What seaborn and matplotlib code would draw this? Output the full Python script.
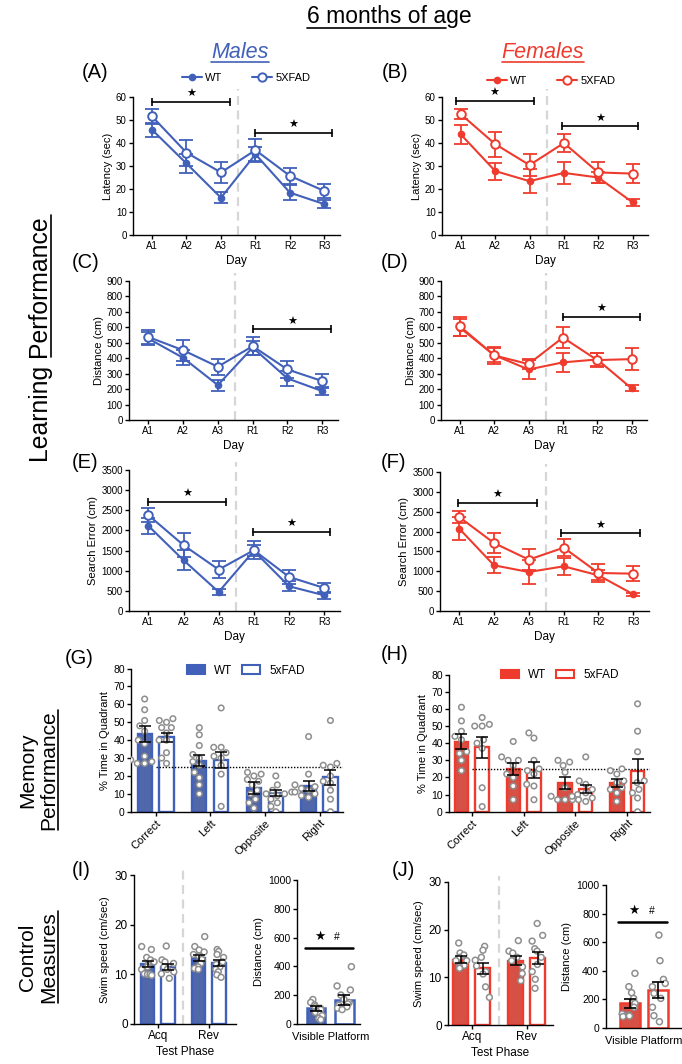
import numpy as np
import pandas as pd
import matplotlib
matplotlib.use("Agg")
import matplotlib.pyplot as plt
import seaborn as sns
from matplotlib.lines import Line2D
from matplotlib.patches import Patch

# ---------------- data ----------------
days = ["A1", "A2", "A3", "R1", "R2", "R3"]
genotypes = ["WT", "5xFAD"]
quadrants = ["Correct", "Left", "Opposite", "Right"]
phases = ["Acq", "Rev"]

# (A) males latency (sec)
m_lat_wt = [45.8, 31.1, 16.2, 35.1, 18.4, 13.4]
m_lat_wt_sem = [3.0, 4.2, 2.4, 3.2, 3.2, 1.8]
m_lat_fad = [51.6, 35.8, 27.2, 36.9, 25.7, 19.1]
m_lat_fad_sem = [3.3, 5.7, 4.6, 4.9, 3.5, 3.2]
# (B) females latency (sec)
f_lat_wt = [43.7, 27.8, 23.4, 27.0, 25.0, 14.2]
f_lat_wt_sem = [4.3, 3.7, 5.2, 4.8, 2.4, 1.4]
f_lat_fad = [52.5, 39.5, 30.4, 40.0, 27.2, 26.7]
f_lat_fad_sem = [2.2, 5.4, 4.9, 3.8, 4.7, 4.2]
# (C) males distance (cm)
m_dist_wt = [528, 403, 226, 469, 269, 187]
m_dist_wt_sem = [40, 50, 35, 45, 48, 27]
m_dist_fad = [538, 452, 345, 478, 327, 252]
m_dist_fad_sem = [45, 68, 52, 59, 57, 46]
# (D) females distance (cm)
f_dist_wt = [598, 420, 327, 373, 392, 205]
f_dist_wt_sem = [55, 45, 62, 60, 45, 20]
f_dist_fad = [607, 418, 362, 534, 388, 394]
f_dist_fad_sem = [60, 55, 30, 68, 45, 70]
# (E) males search error (cm)
m_err_wt = [2115, 1261, 473, 1493, 614, 390]
m_err_wt_sem = [195, 250, 80, 140, 125, 80]
m_err_fad = [2380, 1634, 1028, 1509, 846, 572]
m_err_fad_sem = [165, 300, 220, 230, 175, 130]
# (F) females search error (cm)
f_err_wt = [2077, 1150, 982, 1125, 898, 420]
f_err_wt_sem = [290, 200, 290, 220, 130, 30]
f_err_fad = [2367, 1712, 1293, 1595, 957, 940]
f_err_fad_sem = [140, 240, 270, 220, 220, 185]

# (G) males % time in quadrant
m_quad_wt = [43.4, 28.5, 13.4, 14.3]
m_quad_wt_sem = [4.4, 3.2, 3.3, 3.0]
m_quad_fad = [41.6, 28.9, 10.6, 19.2]
m_quad_fad_sem = [2.5, 4.5, 1.6, 4.0]
m_quad_wt_pts = [[63, 57, 51, 48, 45, 40, 38, 31, 29, 28, 27, 27],
                 [47, 43, 37, 32, 30, 28, 26, 22, 19, 15, 10],
                 [22, 21, 20, 18, 17, 15, 12, 10, 7, 5, 2],
                 [42, 21, 15, 14, 13, 12, 11, 10, 9, 8]]
m_quad_fad_pts = [[52, 51, 50, 47, 47, 44, 40, 40, 33, 30, 27],
                  [58, 36, 36, 33, 31, 30, 26, 21, 3],
                  [20, 15, 12, 11, 10, 10, 9, 7, 5, 3, 0],
                  [51, 27, 26, 25, 20, 17, 16, 12, 7, 0]]
# (H) females % time in quadrant
f_quad_wt = [40.9, 24.9, 16.6, 16.6]
f_quad_wt_sem = [4.3, 3.6, 3.5, 2.3]
f_quad_fad = [37.6, 24.4, 13.2, 23.8]
f_quad_fad_sem = [6.3, 4.7, 2.4, 7.0]
f_quad_wt_pts = [[61, 53, 47, 44, 42, 35, 34, 30, 24],
                 [41, 32, 30, 30, 27, 22, 20, 15, 7],
                 [30, 29, 27, 23, 14, 10, 9, 7, 7, 7],
                 [25, 24, 22, 18, 17, 14, 13, 11, 6]]
f_quad_fad_pts = [[55, 51, 50, 50, 42, 40, 37, 14, 3],
                  [46, 43, 30, 25, 24, 22, 16, 15, 7],
                  [32, 18, 16, 13, 11, 9, 8, 7, 6],
                  [63, 47, 35, 18, 17, 13, 11, 8, 0]]

# (I) males swim speed (cm/sec) and visible platform distance (cm)
m_speed_wt = [12.0, 13.2]
m_speed_wt_sem = [0.6, 0.6]
m_speed_fad = [11.5, 12.3]
m_speed_fad_sem = [0.6, 0.6]
m_speed_wt_pts = [[15.6, 15.0, 13.4, 12.9, 12.5, 11.9, 11.5, 11.0, 10.1, 10.0, 10.0, 9.8],
                  [17.6, 15.6, 14.9, 14.5, 14.0, 13.7, 13.0, 12.2, 11.5, 11.2, 11.0]]
m_speed_fad_pts = [[15.7, 12.9, 12.5, 12.2, 11.5, 11.0, 10.5, 10.1, 9.2],
                   [15.0, 14.6, 14.0, 13.4, 12.5, 12.0, 11.5, 11.0, 10.5, 9.9, 9.4]]
m_vis = [108, 167]
m_vis_sem = [15, 35]
m_vis_wt_pts = [170, 150, 132, 120, 109, 100, 90, 81, 70, 58, 39, 30]
m_vis_fad_pts = [398, 264, 236, 201, 171, 150, 139, 130, 120, 110, 100]

# (J) females swim speed (cm/sec) and visible platform distance (cm)
f_speed_wt = [13.7, 13.5]
f_speed_wt_sem = [0.7, 1.0]
f_speed_fad = [11.9, 14.0]
f_speed_fad_sem = [1.2, 1.3]
f_speed_wt_pts = [[17.2, 15.1, 14.7, 14.2, 13.5, 13.5, 12.5, 12.2, 11.9],
                  [17.7, 15.5, 15.1, 14.2, 13.5, 12.2, 10.8, 9.3]]
f_speed_fad_pts = [[16.5, 15.7, 14.2, 13.6, 12.4, 11.2, 10.7, 8.0, 5.8],
                   [21.3, 18.8, 17.6, 16.0, 15.5, 14.2, 12.7, 11.2, 9.6, 7.7]]
f_vis = [172, 266]
f_vis_sem = [33, 55]
f_vis_wt_pts = [382, 289, 247, 207, 172, 145, 98, 90, 84, 80]
f_vis_fad_pts = [650, 471, 340, 312, 289, 242, 207, 145, 86, 44]

# ---------------- style ----------------
W, H = 682, 1064
sns.set_theme(style="ticks")
plt.rcParams["font.family"] = ["Liberation Sans", "DejaVu Sans"]
plt.rcParams["axes.linewidth"] = 1.0
plt.rcParams["axes.edgecolor"] = "black"
plt.rcParams["xtick.color"] = "black"
plt.rcParams["ytick.color"] = "black"
plt.rcParams["text.color"] = "black"
plt.rcParams["axes.labelcolor"] = "black"
np.random.seed(7)

BLUE = "#4160B9"
RED = "#EE3B2D"
PT_EDGE = "#8E8E8E"
DASH_GRAY = "#D6D6D6"

fig = plt.figure(figsize=(W / 100, H / 100), dpi=100)


def add_ax(L, T, R, B):
    return fig.add_axes([L / W, 1 - B / H, (R - L) / W, (B - T) / H])


def style_ax(ax, fs):
    sns.despine(ax=ax)
    ax.spines["left"].set_linewidth(1.0)
    ax.spines["bottom"].set_linewidth(1.0)
    ax.tick_params(length=3, width=1.0, labelsize=fs, pad=1.5)


def sig_bracket(ax, x0, x1, y):
    ax.plot([x0, x1], [y, y], color="black", lw=1.2, marker="|", markersize=6,
            markeredgewidth=1.2, clip_on=False, zorder=6)
    ax.annotate("\u2605", ((x0 + x1) / 2, y), xytext=(0, 5.5), textcoords="offset points",
                ha="center", va="center", fontsize=8, color="black")


def line_panel(ax, wt, wt_sem, fad, fad_sem, color, ymax, ystep, ylabel):
    x = np.arange(len(days))
    for m, s in [(wt, wt_sem), (fad, fad_sem)]:
        ax.errorbar(x, m, yerr=s, fmt="none", ecolor=color, elinewidth=1.3,
                    capsize=5, capthick=1.3, zorder=2)
    sns.lineplot(x=x, y=wt, ax=ax, color=color, linewidth=1.5, marker="o",
                 markersize=4.5, markerfacecolor=color, markeredgecolor=color,
                 markeredgewidth=1.0, errorbar=None, zorder=3)
    sns.lineplot(x=x, y=fad, ax=ax, color=color, linewidth=1.5, marker="o",
                 markersize=6.2, markerfacecolor="white", markeredgecolor=color,
                 markeredgewidth=1.4, errorbar=None, zorder=4)
    ax.axvline(2.5, ymin=0, ymax=1.06, color=DASH_GRAY, lw=1.6, ls=(0, (4, 2.5)),
               clip_on=False, zorder=1)
    ax.set_xlim(-0.55, 5.45)
    ax.set_ylim(0, ymax)
    ax.set_xticks(x, days)
    ax.set_yticks(np.arange(0, ymax + 1, ystep))
    style_ax(ax, 7)
    ax.set_xlabel("Day", fontsize=8.5, labelpad=3)
    ax.set_ylabel(ylabel, fontsize=8, labelpad=2)


def bar_points(ax, cats, wt, wt_sem, fad, fad_sem, wt_pts, fad_pts, color, gap, size, swarm):
    mdf = pd.DataFrame({"cat": cats * 2,
                        "geno": ["WT"] * len(cats) + ["5xFAD"] * len(cats),
                        "val": list(wt) + list(fad)})
    sns.barplot(data=mdf, x="cat", y="val", hue="geno", order=cats, hue_order=genotypes,
                palette={"WT": color, "5xFAD": "white"}, edgecolor=color, linewidth=1.7,
                width=0.8, gap=gap, errorbar=None, legend=False, ax=ax, zorder=2)
    conts = list(ax.containers)
    for cont, m, s in zip(conts, [wt, fad], [wt_sem, fad_sem]):
        xs = [p.get_x() + p.get_width() / 2 for p in cont]
        ax.errorbar(xs, m, yerr=s, fmt="none", ecolor="black", elinewidth=1.1,
                    capsize=4.5, capthick=1.1, zorder=6)
    rows = []
    for c, pw, pf in zip(cats, wt_pts, fad_pts):
        rows += [(c, "WT", v) for v in pw] + [(c, "5xFAD", v) for v in pf]
    pdf = pd.DataFrame(rows, columns=["cat", "geno", "val"])
    common = dict(data=pdf, x="cat", y="val", hue="geno", order=cats, hue_order=genotypes,
                  dodge=True, palette={"WT": "white", "5xFAD": "white"}, edgecolor=PT_EDGE,
                  linewidth=1.1, size=size, legend=False, ax=ax, zorder=5)
    if swarm:
        sns.swarmplot(**common)
    else:
        sns.stripplot(jitter=0.27, **common)
    ax.set_xlabel("")
    ax.set_ylabel("")


def vis_panel(ax, means, sems, wt_pts, fad_pts, color, width, xlim):
    mdf = pd.DataFrame({"geno": genotypes, "val": means})
    sns.barplot(data=mdf, x="geno", y="val", hue="geno", order=genotypes, hue_order=genotypes,
                palette={"WT": color, "5xFAD": "white"}, edgecolor=color, linewidth=1.8,
                width=width, errorbar=None, legend=False, ax=ax, zorder=2)
    conts = list(ax.containers)
    for cont, m, s in zip(conts, means, sems):
        p = cont[0]
        ax.errorbar([p.get_x() + p.get_width() / 2], [m], yerr=[s], fmt="none",
                    ecolor="black", elinewidth=1.2, capsize=4.5, capthick=1.2, zorder=6)
    pdf = pd.DataFrame({"geno": ["WT"] * len(wt_pts) + ["5xFAD"] * len(fad_pts),
                        "val": list(wt_pts) + list(fad_pts)})
    sns.stripplot(data=pdf, x="geno", y="val", hue="geno", order=genotypes, hue_order=genotypes,
                  palette={"WT": "white", "5xFAD": "white"}, edgecolor=PT_EDGE, linewidth=1.1,
                  size=4.3, jitter=0.28, legend=False, ax=ax, zorder=5)
    ax.set_xlim(*xlim)
    ax.set_ylim(0, 1000)
    ax.set_yticks(np.arange(0, 1001, 200))
    style_ax(ax, 7.5)
    ax.set_xticks([0.5], ["Visible Platform"])
    ax.tick_params(axis="x", length=0, labelsize=8, pad=6)
    ax.set_xlabel("")
    ax.set_ylabel("Distance (cm)", fontsize=8, labelpad=3)


# ---------------- line panels ----------------
axA = add_ax(133, 97, 340, 235)
line_panel(axA, m_lat_wt, m_lat_wt_sem, m_lat_fad, m_lat_fad_sem, BLUE, 60, 10, "Latency (sec)")
sig_bracket(axA, 0, 2.25, 57.8)
sig_bracket(axA, 2.98, 5.22, 44.4)

axB = add_ax(442, 97, 648, 235)
line_panel(axB, f_lat_wt, f_lat_wt_sem, f_lat_fad, f_lat_fad_sem, RED, 60, 10, "Latency (sec)")
sig_bracket(axB, -0.15, 2.12, 58.3)
sig_bracket(axB, 2.95, 5.16, 47.3)

axC = add_ax(129, 281, 338, 420)
line_panel(axC, m_dist_wt, m_dist_wt_sem, m_dist_fad, m_dist_fad_sem, BLUE, 900, 100, "Distance (cm)")
sig_bracket(axC, 3.0, 5.26, 588)

axD = add_ax(441, 281, 647, 420)
line_panel(axD, f_dist_wt, f_dist_wt_sem, f_dist_fad, f_dist_fad_sem, RED, 900, 100, "Distance (cm)")
sig_bracket(axD, 2.99, 5.25, 668)

axE = add_ax(129, 470, 340, 611)
line_panel(axE, m_err_wt, m_err_wt_sem, m_err_fad, m_err_fad_sem, BLUE, 3500, 500, "Search Error (cm)")
sig_bracket(axE, 0, 2.2, 2712)
sig_bracket(axE, 2.97, 5.16, 1966)

axF = add_ax(440, 472, 649, 611)
line_panel(axF, f_err_wt, f_err_wt_sem, f_err_fad, f_err_fad_sem, RED, 3500, 500, "Search Error (cm)")
sig_bracket(axF, -0.03, 2.24, 2728)
sig_bracket(axF, 2.91, 5.19, 1956)

# legends for line panels
for color, cx, cy in [(BLUE, 246, 77.7), (RED, 551, 80.7)]:
    hs = [Line2D([], [], color=color, lw=1.5, marker="o", markersize=4.5,
                 markerfacecolor=color, markeredgecolor=color),
          Line2D([], [], color=color, lw=1.5, marker="o", markersize=6,
                 markerfacecolor="white", markeredgecolor=color, markeredgewidth=1.4)]
    fig.legend(hs, ["WT", "5XFAD"], loc="center", bbox_to_anchor=(cx / W, 1 - cy / H),
               bbox_transform=fig.transFigure, ncol=2, frameon=False, fontsize=8,
               handlelength=1.8, handletextpad=0.35, columnspacing=2.6, borderpad=0)

# ---------------- quadrant panels ----------------
for (L, T, R, B), color, data, xlim, lcx, lcy in [
        ((131, 668.6, 343, 811.7), BLUE,
         (m_quad_wt, m_quad_wt_sem, m_quad_fad, m_quad_fad_sem, m_quad_wt_pts, m_quad_fad_pts),
         (-0.45, 3.43), 246, 670.7),
        ((449, 674.7, 650, 811.7), RED,
         (f_quad_wt, f_quad_wt_sem, f_quad_fad, f_quad_fad_sem, f_quad_wt_pts, f_quad_fad_pts),
         (-0.44, 3.44), 560, 675)]:
    ax = add_ax(L, T, R, B)
    bar_points(ax, quadrants, *data, color=color, gap=0.35, size=4.0, swarm=True)
    ax.hlines(25, 0, xlim[1], colors="black", linestyles=(0, (1, 1.2)), lw=1.0, zorder=4)
    ax.set_xlim(*xlim)
    ax.set_ylim(0, 80)
    ax.set_yticks(np.arange(0, 81, 10))
    style_ax(ax, 7.5)
    ax.set_xticks(range(4), quadrants, rotation=45, ha="right", rotation_mode="anchor")
    ax.tick_params(axis="x", labelsize=8)
    ax.set_ylabel("% Time in Quadrant", fontsize=8, labelpad=2)
    hs = [Patch(facecolor=color, edgecolor=color, lw=1.5),
          Patch(facecolor="white", edgecolor=color, lw=1.5)]
    fig.legend(hs, ["WT", "5xFAD"], loc="center", bbox_to_anchor=(lcx / W, 1 - lcy / H),
               bbox_transform=fig.transFigure, ncol=2, frameon=False, fontsize=8.5,
               handlelength=1.5, handleheight=0.7, handletextpad=0.8, columnspacing=0.8,
               borderpad=0)

# ---------------- control panels ----------------
for (L, T, R, B), color, data, xlim in [
        ((134, 875, 236, 1024), BLUE,
         (m_speed_wt, m_speed_wt_sem, m_speed_fad, m_speed_fad_sem, m_speed_wt_pts, m_speed_fad_pts),
         (-0.465, 1.535)),
        ((448, 882, 553, 1025), RED,
         (f_speed_wt, f_speed_wt_sem, f_speed_fad, f_speed_fad_sem, f_speed_wt_pts, f_speed_fad_pts),
         (-0.43, 1.48))]:
    ax = add_ax(L, T, R, B)
    bar_points(ax, phases, *data, color=color, gap=0.33, size=4.2, swarm=False)
    ax.axvline(0.5, ymin=0, ymax=1.04, color=DASH_GRAY, lw=1.6, ls=(0, (4, 2.5)),
               clip_on=False, zorder=1)
    ax.set_xlim(*xlim)
    ax.set_ylim(0, 30)
    ax.set_yticks([0, 10, 20, 30])
    style_ax(ax, 8.5)
    ax.tick_params(axis="x", labelsize=8.5)
    ax.set_xlabel("Test Phase", fontsize=8.5, labelpad=3)
    ax.set_ylabel("Swim speed (cm/sec)", fontsize=8, labelpad=3)

axI2 = add_ax(297.3, 880, 360, 1024)
vis_panel(axI2, m_vis, m_vis_sem, m_vis_wt_pts, m_vis_fad_pts, BLUE, 0.65, (-0.66, 1.55))
axI2.plot([-0.39, 1.3], [530, 530], color="black", lw=1.8, clip_on=False, zorder=6)
axI2.annotate("\u2605", (0.12, 530), xytext=(0, 8), textcoords="offset points",
              ha="center", va="center", fontsize=9)
axI2.annotate("#", (0.75, 530), xytext=(0, 8), textcoords="offset points",
              ha="center", va="center", fontsize=7.5)

axJ2 = add_ax(605.7, 885, 682, 1028)
vis_panel(axJ2, f_vis, f_vis_sem, f_vis_wt_pts, f_vis_fad_pts, RED, 0.7, (-0.86, 1.84))
axJ2.plot([-0.42, 1.3], [740, 740], color="black", lw=1.8, clip_on=False, zorder=6)
axJ2.annotate("\u2605", (0.12, 740), xytext=(0, 8), textcoords="offset points",
              ha="center", va="center", fontsize=9)
axJ2.annotate("#", (0.77, 740), xytext=(0, 8), textcoords="offset points",
              ha="center", va="center", fontsize=7.5)

# ---------------- texts ----------------
def ftext(x, y, s, **kw):
    return fig.text(x / W, 1 - y / H, s, **kw)

t_title = ftext(389, 17, "6 months of age", fontsize=16.5, ha="center", va="center")
t_m = ftext(240, 52, "Males", fontsize=15.5, style="italic", color=BLUE, ha="center", va="center")
t_f = ftext(543, 52, "Females", fontsize=15.5, style="italic", color=RED, ha="center", va="center")

for lab, x, y in [("(A)", 82, 73), ("(B)", 382, 73), ("(C)", 72, 263), ("(D)", 381, 263),
                  ("(E)", 72, 462), ("(F)", 381, 462), ("(G)", 65, 658), ("(H)", 381, 655),
                  ("(I)", 72, 870), ("(J)", 392, 870)]:
    ftext(x, y, lab, fontsize=14.5, ha="left", va="center")

t_learn = ftext(46, 364, "Learning", fontsize=17.8, rotation=90, rotation_mode="anchor",
                ha="right", va="baseline")
t_perf1 = ftext(46, 357, "Performance", fontsize=17.8, rotation=90, rotation_mode="anchor",
                ha="left", va="baseline")
t_mem = ftext(28, 770, "Memory", fontsize=15, rotation=90, ha="center", va="center")
t_perf2 = ftext(49, 770, "Performance", fontsize=15, rotation=90, ha="center", va="center")
t_ctrl = ftext(28, 957, "Control", fontsize=15, rotation=90, ha="center", va="center")
t_meas = ftext(49, 957, "Measures", fontsize=15, rotation=90, ha="center", va="center")

fig.canvas.draw()
rend = fig.canvas.get_renderer()


def underline_h(t, color, lw, upto=None):
    bb = t.get_window_extent(rend)
    x0, x1 = bb.x0, bb.x1
    if upto is not None:
        tmp = fig.text(0, 0, upto, fontproperties=t.get_fontproperties())
        x1 = x0 + tmp.get_window_extent(rend).width
        tmp.remove()
    y = bb.y0 + 1
    fig.add_artist(Line2D([x0 / W, x1 / W], [y / H, y / H], transform=fig.transFigure,
                          color=color, lw=lw))


def underline_v(t, color, lw):
    bb = t.get_window_extent(rend)
    x = bb.x1 - 0.5
    fig.add_artist(Line2D([x / W, x / W], [bb.y0 / H, bb.y1 / H], transform=fig.transFigure,
                          color=color, lw=lw))


underline_h(t_title, "black", 1.2, upto="6 months of a")
underline_h(t_m, BLUE, 1.2)
underline_h(t_f, RED, 1.2)
for t in [t_perf1, t_perf2, t_meas]:
    underline_v(t, "black", 1.2)

fig.savefig("out.png", dpi=100)
